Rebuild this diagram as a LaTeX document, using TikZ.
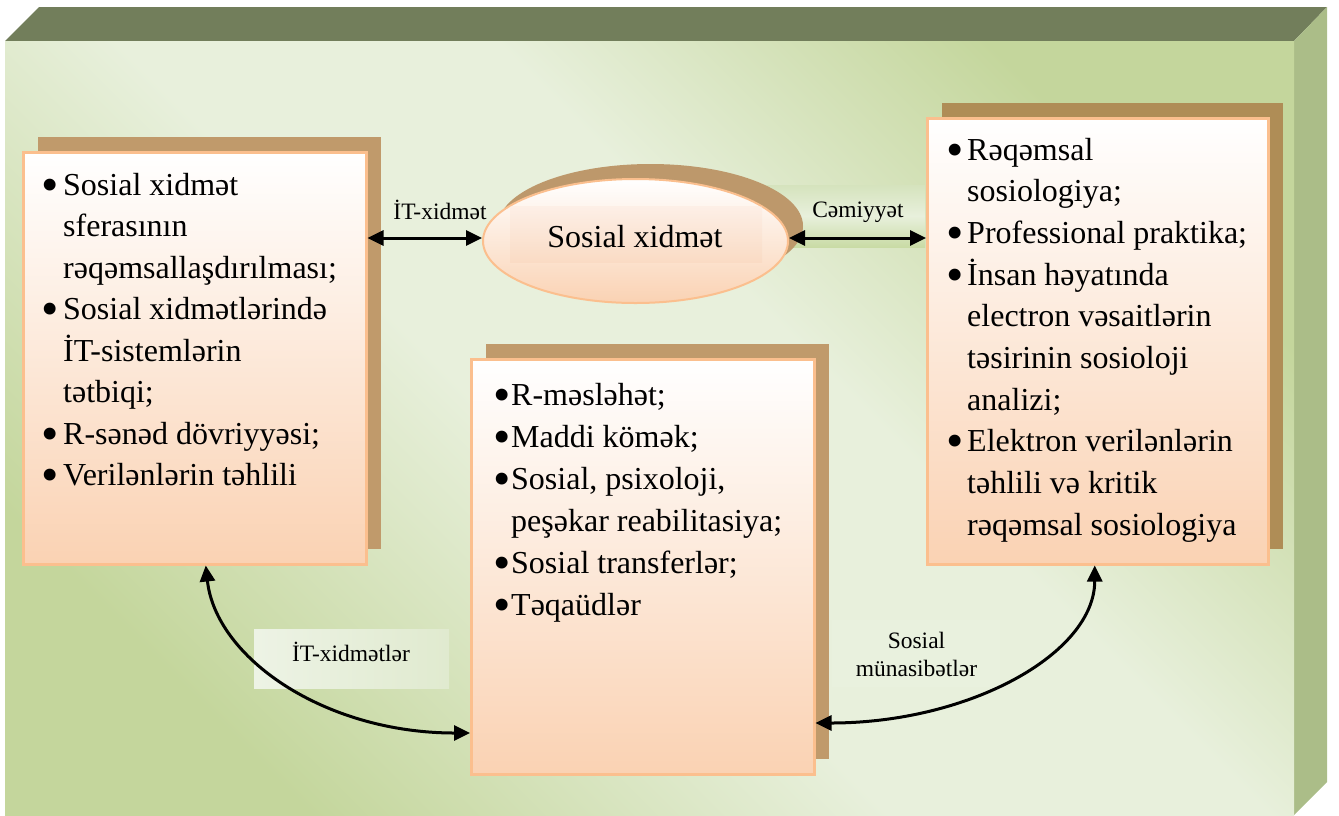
\documentclass[tikz,border=0pt]{standalone}
\usepackage{fontspec}
\usepackage{graphicx}
\setmainfont{Liberation Serif}
\usetikzlibrary{arrows.meta,calc,shapes.geometric,shadows}

\definecolor{slabtop}{HTML}{727E5B}
\definecolor{slabside}{HTML}{ABBD88}
\definecolor{slabgreen}{HTML}{C4D69C}
\definecolor{slablight}{HTML}{E8F0DC}
\definecolor{shadowbrown}{HTML}{C09A6B}
\definecolor{shadowdark}{HTML}{AF8D56}
\definecolor{shadowoval}{HTML}{BD986B}
\definecolor{peach}{HTML}{FAD2B3}
\definecolor{peachline}{HTML}{FBBF8E}
\definecolor{paneltop}{HTML}{D5E3BD}
\definecolor{panelbottom}{HTML}{C9DBA5}
\definecolor{panelleft}{HTML}{EDF3E5}
\definecolor{panelright}{HTML}{E0EACF}
\definecolor{ovalpaneltop}{HTML}{FCE8DB}
\definecolor{ovalpanelbottom}{HTML}{F8D4BA}

% mirrored diagonal gradient of the front face
\pgfdeclarehorizontalshading{slab}{100bp}{color(0bp)=(slabgreen); color(25bp)=(slabgreen); color(45bp)=(slablight); color(58bp)=(slablight); color(75bp)=(slabgreen); color(100bp)=(slabgreen)}

% list bullets and continuation indents
\newcommand\bdot{\raisebox{-6pt}[0pt][0pt]{\scalebox{1.55}{•}}}
\newcommand\bitem[1]{\makebox[12pt]{\bdot}\hspace{#1}}
\newcommand\bcont[1]{\hspace{\dimexpr12pt+#1\relax}}

\begin{document}
\begin{tikzpicture}[x=1pt,y=-1pt,
  link/.style={{Triangle[length=16pt,width=15pt]}-{Triangle[length=16pt,width=15pt]}, line width=3pt},
  card/.style={rectangle, draw=peachline, line width=2.5pt, top color=white, bottom color=peach,
    inner sep=0pt, anchor=north west,
    general shadow={fill=#1, shadow xshift=15pt, shadow yshift=15pt}},
  body/.style={font=\fontsize{32}{41.5}\selectfont, inner sep=0pt, anchor=base west},
  tag/.style={font=\fontsize{23.5}{28}\selectfont, inner sep=0pt, anchor=base},
]
\useasboundingbox (0,0) rectangle (1339,815);

% the slab behind everything
\fill[slabtop] (5,41) -- (39,7) -- (1327,7) -- (1294,41) -- cycle;
\fill[slabside] (1294,41) -- (1327,7) -- (1327,782) -- (1294,815) -- cycle;
\shade[shading=slab, shading angle=45] (5,41) rectangle (1294,815);

% soft label panels
\shade[top color=paneltop, bottom color=panelbottom, middle color=slablight]
  (760,185) rectangle (925,247);
\shade[left color=panelleft, right color=panelright] (254,629) rectangle (449,688);
\fill[white, opacity=0.07] (832,620) rectangle (1000,687);

% cards
\node[card=shadowbrown, minimum width=343pt, minimum height=412pt] (left) at (22,151) {};
\node[card=shadowbrown, minimum width=343pt, minimum height=415pt] (mid) at (470,358) {};
\node[card=shadowdark, minimum width=341pt, minimum height=446pt] (right) at (926,117) {};

% central ellipse
\node[ellipse, draw=peachline, line width=2pt, top color=white, bottom color=peach,
  minimum width=305pt, minimum height=124pt, inner sep=0pt,
  general shadow={fill=shadowoval, shadow xshift=15pt, shadow yshift=15pt}] (el) at (635.5,241) {};
\shade[top color=ovalpaneltop, bottom color=ovalpanelbottom, opacity=0.4] (510,206) rectangle (762,262);
\node[font=\fontsize{32}{38}\selectfont, inner sep=0pt, anchor=base] (eltext) at (635,247) {Sosial xidmət};

% connectors
\coordinate (e1) at ($(el.west)+(0,-3)$);
\coordinate (e2) at ($(el.east)+(0,-3)$);
\coordinate (a1) at (left.east |- e1);
\draw[link] (a1) -- (e1);
\coordinate (a2) at (right.west |- e2);
\draw[link] (e2) -- (a2);

\coordinate (c3a) at ($(left.south)+(11,0)$);
\coordinate (c3b) at (mid.west |- 0,733);
\draw[link] (c3a) .. controls ($(c3a)+(10,92)$) and ($(c3b)+(-146,0)$) .. (c3b);

\coordinate (c4a) at (mid.east |- 0,723);
\coordinate (c4b) at ($(right.south)+(-3,0)$);
\draw[link] (c4a) .. controls ($(c4a)+(154,0)$) and ($(c4b)+(0,88)$) .. (c4b);

% connector labels
\node[tag] (t1) at (440,219) {İT-xidmət};
\node[tag] (t2) at (858,217) {Cəmiyyət};
\node[tag] (t3) at (351,661) {İT-xidmətlər};
\node[tag] (t4) at (916.5,648) {\begin{tabular}[t]{@{}c@{}}Sosial\\münasibətlər\end{tabular}};

% card texts
\node[body] (lefttext) at (44,195) {\begin{tabular}[t]{@{}l@{}}
\bitem{7pt}Sosial xidmət\\
\bcont{7pt}sferasının\\
\bcont{7pt}rəqəmsallaşdırılması;\\
\bitem{7pt}Sosial xidmətlərində\\
\bcont{7pt}İT-sistemlərin\\
\bcont{7pt}tətbiqi;\\
\bitem{7pt}R-sənəd dövriyyəsi;\\
\bitem{7pt}Verilənlərin təhlili
\end{tabular}};

\node[body, font=\fontsize{32}{42}\selectfont] (midtext) at (496,405) {\begin{tabular}[t]{@{}l@{}}
\bitem{3pt}R-məsləhət;\\
\bitem{3pt}Maddi kömək;\\
\bitem{3pt}Sosial, psixoloji,\\
\bcont{3pt}peşəkar reabilitasiya;\\
\bitem{3pt}Sosial transferlər;\\
\bitem{3pt}Təqaüdlər
\end{tabular}};

\node[body, font=\fontsize{32}{41.7}\selectfont] (righttext) at (949,160) {\begin{tabular}[t]{@{}l@{}}
\bitem{6pt}Rəqəmsal\\
\bcont{6pt}sosiologiya;\\
\bitem{6pt}Professional praktika;\\
\bitem{6pt}İnsan həyatında\\
\bcont{6pt}electron vəsaitlərin\\
\bcont{6pt}təsirinin sosioloji\\
\bcont{6pt}analizi;\\
\bitem{6pt}Elektron verilənlərin\\
\bcont{6pt}təhlili və kritik\\
\bcont{6pt}rəqəmsal sosiologiya
\end{tabular}};
\end{tikzpicture}
\end{document}
